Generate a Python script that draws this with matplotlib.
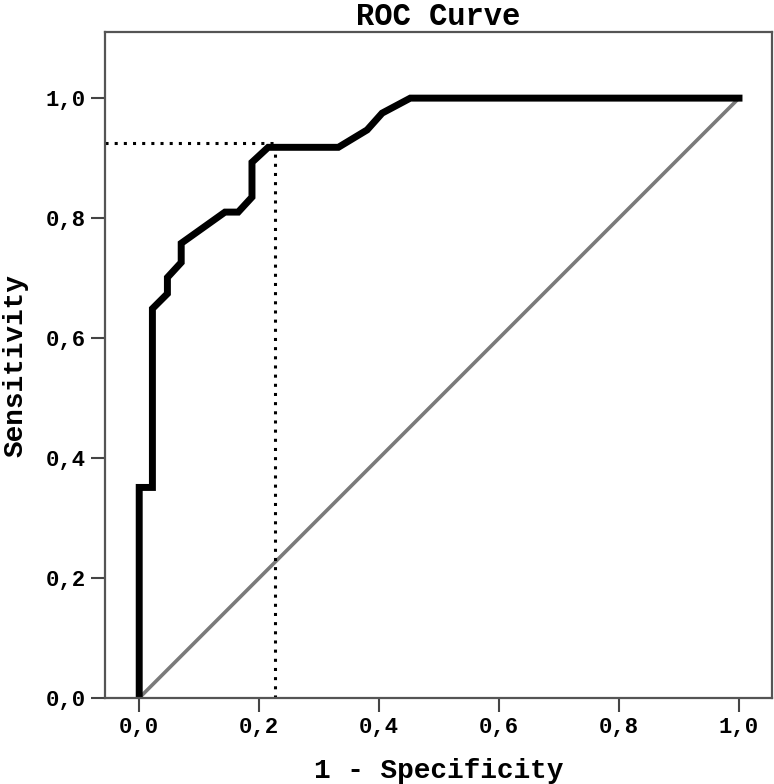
import matplotlib
matplotlib.use("Agg")
import matplotlib.pyplot as plt

# ROC curve points (1 - specificity, sensitivity)
fpr = [0.0, 0.0, 0.022, 0.022, 0.047, 0.047, 0.07, 0.07, 0.143, 0.165,
       0.188, 0.188, 0.215, 0.332, 0.38, 0.405, 0.452, 1.0]
tpr = [0.0, 0.351, 0.351, 0.649, 0.674, 0.701, 0.726, 0.758, 0.81, 0.81,
       0.835, 0.893, 0.918, 0.918, 0.947, 0.975, 1.0, 1.0]

# reference diagonal
diag_x = [0.0, 1.0]
diag_y = [0.0, 1.0]

# cut-off point marked with dotted lines
cut_x = 0.227
cut_y = 0.925

ticks = [0.0, 0.2, 0.4, 0.6, 0.8, 1.0]
tick_labels = ["0,0", "0,2", "0,4", "0,6", "0,8", "1,0"]

plt.rcParams['font.family'] = ['Liberation Mono', 'DejaVu Sans Mono']

fig = plt.figure(figsize=(7.74, 7.84), dpi=100)
ax = fig.add_axes([0.1357, 0.1097, 0.8617, 0.8493])

ax.plot(diag_x, diag_y, color='#7a7a7a', lw=2.6, solid_capstyle='butt')
ax.plot(fpr, tpr, color='black', lw=5, solid_joinstyle='miter')

xmin, xmax = -0.057, 1.055
ax.plot([xmin, cut_x], [cut_y, cut_y], color='black', lw=2.2, ls=(0, (1, 2)))
ax.plot([cut_x, cut_x], [0, cut_y], color='black', lw=2.2, ls=(0, (1, 2)))

ax.set_xlim(xmin, xmax)
ax.set_ylim(0, 1.11)

ax.set_xticks(ticks)
ax.set_xticklabels(tick_labels, fontsize=16, fontweight='bold')
ax.set_yticks(ticks)
ax.set_yticklabels(tick_labels, fontsize=16, fontweight='bold')
ax.tick_params(direction='out', length=10, width=1.5, color='#444444', pad=4)

for s in ax.spines.values():
    s.set_color('#555555')
    s.set_linewidth(1.6)

ax.set_xlabel("1 - Specificity", fontsize=20, fontweight='bold', labelpad=14)
ax.set_ylabel("Sensitivity", fontsize=20, fontweight='bold', labelpad=12)
ax.set_title("ROC Curve", fontsize=22, fontweight='bold', pad=2)

fig.savefig("out.png", dpi=100)
